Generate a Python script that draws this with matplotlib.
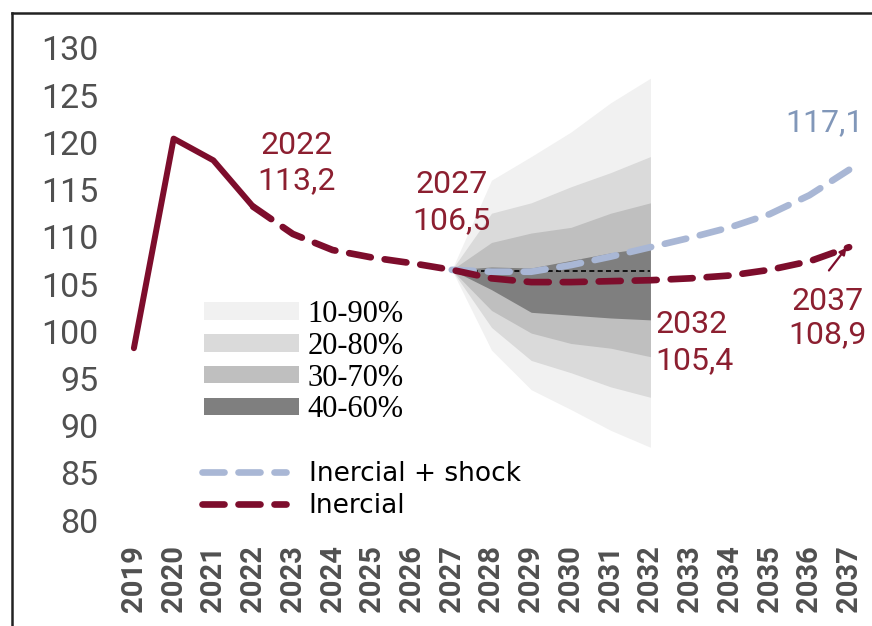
import numpy as np
import matplotlib
matplotlib.use("Agg")
import matplotlib.pyplot as plt
from matplotlib.patches import Patch
from matplotlib.lines import Line2D

# historical + inertial path
years_hist = [2019, 2020, 2021, 2022]
debt_hist = [98.2, 120.4, 118.1, 113.2]

years_inercial = list(range(2022, 2038))
debt_inercial = [113.2, 110.3, 108.6, 107.8, 107.2, 106.5, 105.6, 105.2, 105.2,
                 105.3, 105.4, 105.6, 105.9, 106.5, 107.4, 108.9]

years_shock = list(range(2027, 2038))
debt_shock = [106.5, 106.3, 106.3, 107.0, 107.9, 108.9, 109.9, 111.0, 112.4, 114.4, 117.1]

# fan chart percentiles
years_fan = [2027, 2028, 2029, 2030, 2031, 2032]
p10 = [106.5, 98.0, 93.8, 91.7, 89.5, 87.7]
p20 = [106.5, 100.4, 96.9, 95.6, 94.1, 93.0]
p30 = [106.5, 102.2, 99.8, 98.7, 98.2, 97.3]
p40 = [106.5, 104.4, 102.0, 101.7, 101.4, 101.2]
p60 = [106.5, 106.8, 106.7, 107.5, 108.3, 108.9]
p70 = [106.5, 109.4, 110.4, 111.0, 112.5, 113.6]
p80 = [106.5, 112.5, 113.6, 115.3, 116.8, 118.5]
p90 = [106.5, 116.0, 118.5, 121.1, 124.2, 126.8]
median_level = 106.4

band_labels = ["10-90%", "20-80%", "30-70%", "40-60%"]
band_colors = ["#f1f1f1", "#dadada", "#bfbfbf", "#7f7f7f"]

red = "#7d0d2c"
red_txt = "#8c1f30"
blue = "#a9b7d5"
blue_txt = "#8197b9"
tick_gray = "#505050"

fig = plt.figure(figsize=(8.72, 6.26), dpi=100)
ax = fig.add_axes([118/872, 1-520/626, 747/872, 472/626])

lows = [p10, p20, p30, p40]
highs = [p90, p80, p70, p60]
for lo, hi, c in zip(lows, highs, band_colors):
    ax.fill_between(years_fan, lo, hi, color=c, lw=0, zorder=1)

ax.plot([years_fan[0] + 0.1, years_fan[-1]], [median_level, median_level],
        color="black", lw=1.2, ls=(0, (3, 2)), zorder=2)

dash = (0, (3.3, 2.1))
ax.plot(years_shock, debt_shock, color=blue, lw=4.8, ls=dash,
        dash_capstyle="round", zorder=3)
ax.plot(years_inercial, debt_inercial, color=red, lw=4.8, ls=dash,
        dash_capstyle="round", zorder=4)
ax.plot(years_hist, debt_hist, color=red, lw=4.3, solid_capstyle="round",
        solid_joinstyle="round", zorder=4)

ax.set_xlim(2018.6, 2037.4)
ax.set_ylim(80, 130)
ax.set_yticks(np.arange(80, 131, 5))
ax.set_xticks(range(2019, 2038))
for s in ax.spines.values():
    s.set_visible(False)
ax.tick_params(length=0)
ax.tick_params(axis="y", pad=14, labelsize=24.5, labelcolor=tick_gray)
ax.tick_params(axis="x", pad=18, labelsize=21, labelcolor=tick_gray, rotation=90)
for t in ax.get_yticklabels():
    t.set_fontfamily(["Roboto", "DejaVu Sans"])
for t in ax.get_xticklabels():
    t.set_fontfamily(["Roboto", "DejaVu Sans"])
    t.set_fontweight("bold")

ann_font = dict(fontsize=23, family=["Roboto", "DejaVu Sans"], linespacing=1.3)
ax.text(2023.1, 117.8, "2022\n113,2", color=red_txt, ha="center", va="center", **ann_font)
ax.text(2027.0, 113.6, "2027\n106,5", color=red_txt, ha="center", va="center", **ann_font)
ax.text(2036.37, 122.05, "117,1", color=blue_txt, ha="center", va="center", **ann_font)
ax.text(2032.12, 98.8, "2032\n105,4", color=red_txt, ha="left", va="center", **ann_font)
ax.text(2036.45, 101.4, "2037\n108,9", color=red_txt, ha="center", va="center",
        fontsize=23, family=["Roboto", "DejaVu Sans"], linespacing=1.18)
ax.annotate("", xy=(2036.98, 109.1), xytext=(2036.45, 106.2),
            arrowprops=dict(arrowstyle="-|>", color=red, lw=1.6, mutation_scale=10))

fan_handles = [Patch(facecolor=c, edgecolor="none") for c in band_colors]
leg1 = ax.legend(fan_handles, band_labels, loc="upper left",
                 bbox_to_anchor=(0.115, 0.466), frameon=False, borderpad=0,
                 borderaxespad=0, handlelength=3.1, handleheight=0.5,
                 handletextpad=0.3, labelspacing=0.09,
                 prop={"family": "Liberation Serif", "size": 22})
ax.add_artist(leg1)

line_handles = [Line2D([], [], color=blue, lw=4.8, ls=dash, dash_capstyle="round"),
                Line2D([], [], color=red, lw=4.8, ls=dash, dash_capstyle="round")]
ax.legend(line_handles, ["Inercial + shock", "Inercial"], loc="upper left",
          bbox_to_anchor=(0.112, 0.124), frameon=False, borderpad=0,
          borderaxespad=0, handlelength=3.2, handletextpad=0.85,
          labelspacing=0.22, prop={"family": "DejaVu Sans", "size": 19})

# outer frame (top and left edges visible)
fig.add_artist(Line2D([12/872, 1.0], [1-13/626, 1-13/626], color="#222222", lw=1.8))
fig.add_artist(Line2D([12/872, 12/872], [0.0, 1-13/626], color="#222222", lw=1.8))

fig.savefig("out.png", dpi=100)
